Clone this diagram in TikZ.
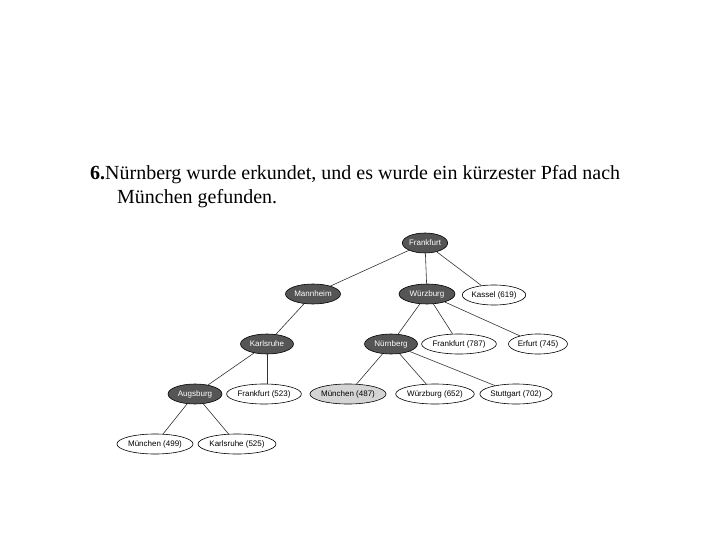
\documentclass[tikz,border=0pt]{standalone}
\usepackage{fontspec}
\setmainfont{Liberation Serif}
\newfontfamily\treefont{Liberation Sans}
\usetikzlibrary{shapes.geometric}
\definecolor{visitgray}{HTML}{555555}
\definecolor{goalgray}{HTML}{D4D4D4}

\begin{document}
\begin{tikzpicture}[x=1pt, y=-1pt,
    city/.style={ellipse, draw=black, line width=0.6pt, inner sep=0pt,
                 minimum height=20pt, text height=6pt, text depth=1.5pt,
                 font=\treefont\fontsize{8}{9}\selectfont},
    visited/.style={city, fill=visitgray, text=white},
    open/.style={city, fill=white},
    goal/.style={city, fill=goalgray},
    link/.style={draw=black!80, line width=0.6pt}]
  \useasboundingbox (0,0) rectangle (720,540);
  % caption
  \node[anchor=base west, inner sep=0pt, font=\fontsize{20}{24}\selectfont] (captionA) at (90,180)
    {\textbf{6.}Nürnberg wurde erkundet, und es wurde ein kürzester Pfad nach};
  \node[anchor=base west, inner sep=0pt, font=\fontsize{20}{24}\selectfont] (captionB) at (117,204)
    {München gefunden.};
  % search tree
  \node[visited, minimum width=45pt] (frankfurt) at (425,243) {Frankfurt};
  \node[visited, minimum width=55pt] (mannheim) at (313,294) {Mannheim};
  \node[visited, minimum width=56pt] (wuerzburg) at (427,294) {Würzburg};
  \node[open, minimum width=61pt] (kassel) at (494,295) {Kassel (619)};
  \node[visited, minimum width=53pt] (karlsruhe) at (267,344) {Karlsruhe};
  \node[visited, minimum width=53pt] (nuernberg) at (391,344) {Nürnberg};
  \node[open, minimum width=63pt] (frankfurtB) at (459,344) {Frankfurt (787)};
  \node[open, minimum width=59pt] (erfurt) at (538,344) {Erfurt (745)};
  \node[visited, minimum width=54pt] (augsburg) at (195,394) {Augsburg};
  \node[open, minimum width=66pt] (frankfurtC) at (264,394) {Frankfurt (523)};
  \node[goal, minimum width=72pt] (muenchen) at (348,394) {München (487)};
  \node[open, minimum width=76pt] (wuerzburgB) at (435,394) {Würzburg (652)};
  \node[open, minimum width=70pt] (stuttgart) at (516,394) {Stuttgart (702)};
  \node[open, minimum width=75pt] (muenchenB) at (155,444) {München (499)};
  \node[open, minimum width=72pt] (karlsruheB) at (237,444) {Karlsruhe (525)};

  \draw[link] (frankfurt) -- (mannheim);
  \draw[link] (frankfurt) -- (wuerzburg);
  \draw[link] (frankfurt) -- (kassel);
  \draw[link] (mannheim) -- (karlsruhe);
  \draw[link] (wuerzburg) -- (nuernberg);
  \draw[link] (wuerzburg) -- (frankfurtB);
  \draw[link] (wuerzburg) -- (erfurt);
  \draw[link] (karlsruhe) -- (augsburg);
  \draw[link] (karlsruhe.south) -- (karlsruhe.south |- frankfurtC.north);
  \draw[link] (nuernberg) -- (muenchen);
  \draw[link] (nuernberg) -- (wuerzburgB);
  \draw[link] (nuernberg) -- (stuttgart);
  \draw[link] (augsburg) -- (muenchenB);
  \draw[link] (augsburg) -- (karlsruheB);
\end{tikzpicture}
\end{document}
